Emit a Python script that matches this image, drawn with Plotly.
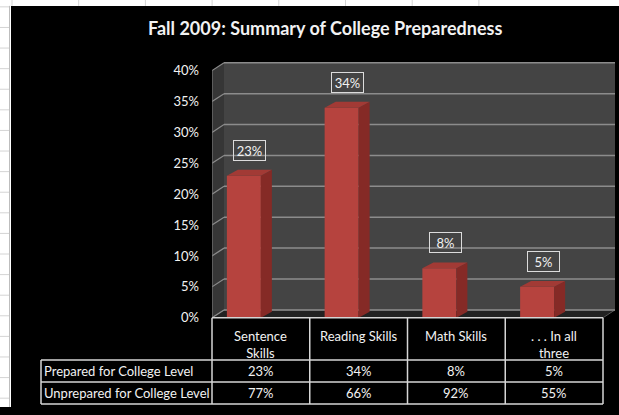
import plotly.graph_objects as go

# ---- chart data -------------------------------------------------------
categories = ["Sentence<br>Skills", "Reading Skills", "Math Skills", ". . . In all<br>three"]
prepared = [23, 34, 8, 5]          # % prepared for college level
unprepared = [77, 66, 92, 55]      # % unprepared for college level
row_labels = ["Prepared for College Level", "Unprepared for College Level"]
y_ticks = [0, 5, 10, 15, 20, 25, 30, 35, 40]
title_text = "Fall 2009: Summary of College Preparedness"

# ---- canvas / geometry helpers -----------------------------------------
W, H = 619, 415
FONT = "Lato"


def px(x):
    return x / W


def py(y):
    return 1 - y / H


# plot box (front floor edge 212..603 px, value 0 at y=324 px, 6.3 px per %)
X0, X1 = 212, 603
Y0 = 324
PX_PER_PCT = 6.3
UNIT = (X1 - X0) / len(categories)          # px per category
WALL_DX, WALL_DY = 12, 8                    # depth of the 3-D walls (px)
BAR_DX, BAR_DY = 11, 6                      # depth of each column (px)
Y_MAX = 41.5

wdx = WALL_DX / UNIT
wdy = WALL_DY / PX_PER_PCT
bdx = BAR_DX / UNIT
bdy = BAR_DY / PX_PER_PCT
bar_off = -34 / UNIT
bar_w = 34 / UNIT

x_lo, x_hi = -0.5, len(categories) - 0.5 + wdx
x_dom = [px(X0), px(X0 + (x_hi - x_lo) * UNIT)]
y_dom = [py(Y0), py(Y0 - Y_MAX * PX_PER_PCT)]

BAR_FRONT = "#b6433e"
BAR_SIDE = "#852a26"
BAR_TOP = "#a23a35"
WALL = "#444444"
SIDE_WALL = "#363636"
GRID = "#8c8c8c"
TXT = "#f2f2f2"
TABLE_LINE = "#d6d6d6"

fig = go.Figure()

xs = list(range(len(categories)))

# front faces of the columns
fig.add_trace(go.Bar(
    x=xs, y=prepared, offset=bar_off, width=bar_w,
    marker=dict(color=BAR_FRONT, line=dict(width=0)),
    hoverinfo="skip", showlegend=False,
))

# side and top faces of the columns
for i, v in enumerate(prepared):
    xl = i + bar_off
    xr = xl + bar_w
    fig.add_trace(go.Scatter(
        x=[xr, xr + bdx, xr + bdx, xr, xr],
        y=[0, bdy, v + bdy, v, 0],
        mode="lines", fill="toself", fillcolor=BAR_SIDE,
        line=dict(width=0), hoverinfo="skip", showlegend=False,
    ))
    fig.add_trace(go.Scatter(
        x=[xl, xr, xr + bdx, xl + bdx, xl],
        y=[v, v, v + bdy, v + bdy, v],
        mode="lines", fill="toself", fillcolor=BAR_TOP,
        line=dict(width=0), hoverinfo="skip", showlegend=False,
    ))

shapes = []

# sheet background behind the chart object
shapes.append(dict(type="rect", xref="paper", yref="paper",
                   x0=0, x1=1, y0=0, y1=1, fillcolor="white",
                   line=dict(width=0), layer="below"))
for k in range(8):
    gx = 12 + k * 66.7
    shapes.append(dict(type="line", xref="paper", yref="paper",
                       x0=px(gx), x1=px(gx), y0=py(0), y1=py(6),
                       line=dict(color="#d4d4d4", width=1), layer="below"))
for k in range(20):
    gy = 7 + k * 21
    shapes.append(dict(type="line", xref="paper", yref="paper",
                       x0=0, x1=px(9), y0=py(gy), y1=py(gy),
                       line=dict(color="#d4d4d4", width=1), layer="below"))
shapes.append(dict(type="line", xref="paper", yref="paper",
                   x0=px(9.5), x1=px(9.5), y0=0, y1=py(6),
                   line=dict(color="#bdbdbd", width=1), layer="below"))
# black chart area
shapes.append(dict(type="rect", xref="paper", yref="paper",
                   x0=px(11), x1=1, y0=0, y1=py(6), fillcolor="black",
                   line=dict(width=0), layer="below"))

# back wall
shapes.append(dict(type="rect", xref="x", yref="y",
                   x0=x_lo + wdx, x1=x_hi, y0=wdy, y1=y_ticks[-1] + wdy,
                   fillcolor=WALL, line=dict(width=0), layer="below"))
# side wall
shapes.append(dict(type="path", xref="x", yref="y",
                   path=(f"M {x_lo},0 L {x_lo},{y_ticks[-1]} "
                         f"L {x_lo + wdx},{y_ticks[-1] + wdy} L {x_lo + wdx},{wdy} Z"),
                   fillcolor=SIDE_WALL, line=dict(width=0), layer="below"))
# floor
shapes.append(dict(type="path", xref="x", yref="y",
                   path=(f"M {x_lo},0 L {x_hi - wdx},0 L {x_hi},{wdy} L {x_lo + wdx},{wdy} Z"),
                   fillcolor="#222222", line=dict(color="#555555", width=1), layer="below"))
# gridlines across the back wall and side wall
for t in y_ticks:
    shapes.append(dict(type="line", xref="x", yref="y",
                       x0=x_lo + wdx, x1=x_hi, y0=t + wdy, y1=t + wdy,
                       line=dict(color=GRID, width=1.5), layer="below"))
    shapes.append(dict(type="line", xref="x", yref="y",
                       x0=x_lo, x1=x_lo + wdx, y0=t, y1=t + wdy,
                       line=dict(color=GRID, width=1.2), layer="below"))
# side wall front edge
shapes.append(dict(type="line", xref="x", yref="y",
                   x0=x_lo, x1=x_lo, y0=0, y1=y_ticks[-1],
                   line=dict(color="#777777", width=1.2), layer="below"))

annotations = []

# title
annotations.append(dict(xref="paper", yref="paper", x=px(325), y=py(29),
                        xanchor="center", yanchor="middle",
                        text=f"<b>{title_text}</b>", showarrow=False,
                        font=dict(family=FONT, size=18, color=TXT)))

# value labels above the columns
for i, v in enumerate(prepared):
    annotations.append(dict(
        xref="x", yref="y", x=i + bar_off + bar_w / 2, y=v,
        xshift=6, yshift=15, xanchor="center", yanchor="bottom",
        text=f"{v}%", showarrow=False,
        font=dict(family=FONT, size=13, color=TXT),
        bordercolor="#dcdcdc", borderwidth=1, borderpad=1,
        width=29, height=17,
    ))

# ---- data table ------------------------------------------------------------
col_edges = [X0 + k * UNIT for k in range(len(categories) + 1)]
T_LEFT = 41
T_TOP, H_BOT = 324, 367
ROW_H = 22.5
row_edges = [H_BOT + k * ROW_H for k in range(len(row_labels) + 1)]

line_style = dict(color=TABLE_LINE, width=1.5)
shapes.append(dict(type="line", xref="paper", yref="paper",
                   x0=px(X0), x1=px(col_edges[-1]), y0=py(T_TOP), y1=py(T_TOP),
                   line=line_style))
for ry in row_edges:
    shapes.append(dict(type="line", xref="paper", yref="paper",
                       x0=px(T_LEFT), x1=px(col_edges[-1]), y0=py(ry), y1=py(ry),
                       line=line_style))
for cx in col_edges:
    shapes.append(dict(type="line", xref="paper", yref="paper",
                       x0=px(cx), x1=px(cx), y0=py(T_TOP), y1=py(row_edges[-1]),
                       line=line_style))
shapes.append(dict(type="line", xref="paper", yref="paper",
                   x0=px(T_LEFT), x1=px(T_LEFT), y0=py(H_BOT), y1=py(row_edges[-1]),
                   line=line_style))

for k, cat in enumerate(categories):
    cx = (col_edges[k] + col_edges[k + 1]) / 2
    annotations.append(dict(xref="paper", yref="paper", x=px(cx), y=py(332),
                            xanchor="center", yanchor="top",
                            text=cat, showarrow=False, align="center",
                            font=dict(family=FONT, size=13, color=TXT)))

for r, (label, vals) in enumerate(zip(row_labels, [prepared, unprepared])):
    cy = (row_edges[r] + row_edges[r + 1]) / 2
    annotations.append(dict(xref="paper", yref="paper", x=px(T_LEFT + 1), y=py(cy),
                            xanchor="left", yanchor="middle",
                            text=label, showarrow=False,
                            font=dict(family=FONT, size=13, color=TXT)))
    for k, v in enumerate(vals):
        cx = (col_edges[k] + col_edges[k + 1]) / 2
        annotations.append(dict(xref="paper", yref="paper", x=px(cx), y=py(cy),
                                xanchor="center", yanchor="middle",
                                text=f"{v}%", showarrow=False,
                                font=dict(family=FONT, size=13, color=TXT)))

fig.update_layout(
    width=W, height=H,
    margin=dict(l=0, r=0, t=0, b=0),
    paper_bgcolor="black",
    plot_bgcolor="rgba(0,0,0,0)",
    showlegend=False,
    xaxis=dict(domain=x_dom, range=[x_lo, x_hi], showgrid=False, zeroline=False,
               showticklabels=False, showline=False, fixedrange=True),
    yaxis=dict(domain=y_dom, range=[0, Y_MAX], showgrid=False, zeroline=False,
               tickmode="array", tickvals=y_ticks,
               ticktext=[f"{t}%" for t in y_ticks],
               ticks="", ticklabelstandoff=12,
               tickfont=dict(family=FONT, size=13, color=TXT),
               showline=False, fixedrange=True),
    shapes=shapes,
    annotations=annotations,
)

fig.write_html("out.html")
